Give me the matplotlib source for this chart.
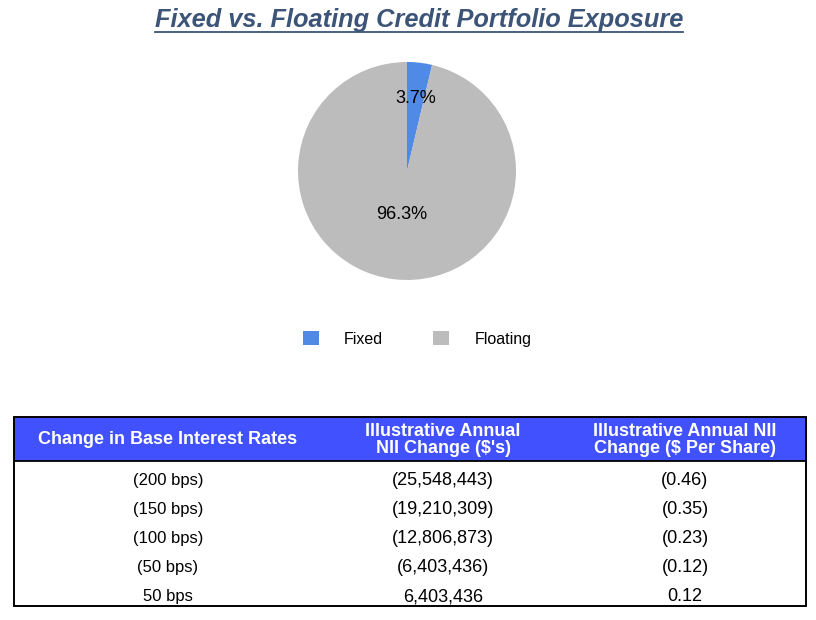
import matplotlib
matplotlib.use("Agg")
import matplotlib.pyplot as plt
from matplotlib.patches import Rectangle, Patch
from matplotlib.lines import Line2D
import numpy as np

plt.rcParams['font.family'] = ['Liberation Sans', 'DejaVu Sans']

# Data
pie_labels = ["Fixed", "Floating"]
pie_values = [3.7, 96.3]
pie_colors = ["#4f8ae6", "#bcbcbc"]

col_headers = ["Change in Base Interest Rates",
               "Illustrative Annual\nNII Change ($'s)",
               "Illustrative Annual NII\nChange ($ Per Share)"]
rate_changes = ["(200 bps)", "(150 bps)", "(100 bps)", "(50 bps)", "50 bps"]
nii_change = ["(25,548,443)", "(19,210,309)", "(12,806,873)", "(6,403,436)", "6,403,436"]
nii_per_share = ["(0.46)", "(0.35)", "(0.23)", "(0.12)", "0.12"]

W, H = 816, 620
fig = plt.figure(figsize=(W / 100, H / 100), dpi=100)

# Title (bold italic, underlined)
title = fig.text(419 / W, 1 - 20 / H, "Fixed vs. Floating Credit Portfolio Exposure",
                 ha='center', va='center', fontsize=18.3, fontweight='bold',
                 fontstyle='italic', color='#3c5478')

# Pie chart
cx, cy, r = 407, 171, 109
ax = fig.add_axes([(cx - r) / W, (H - cy - r) / H, 2 * r / W, 2 * r / H])
wedges, texts = ax.pie(pie_values, colors=pie_colors, startangle=90, counterclock=False,
                       wedgeprops=dict(linewidth=0))
ax.set_xlim(-1, 1)
ax.set_ylim(-1, 1)
ax.set_aspect('equal')
ax.axis('off')

# percentage labels, placed along each wedge's mid angle
label_dist = [0.67, 0.40]
for w, v, d in zip(wedges, pie_values, label_dist):
    ang = np.deg2rad((w.theta1 + w.theta2) / 2)
    ax.text(d * np.cos(ang), d * np.sin(ang), f"{v:.1f}%", ha='center', va='center',
            fontsize=13, color='black')

# Legend
handles = [Patch(facecolor=c, edgecolor='none') for c in pie_colors]
fig.legend(handles, pie_labels, loc='center', bbox_to_anchor=(417 / W, 1 - 339 / H),
           ncol=2, frameon=False, fontsize=11.5, handlelength=1.0, handleheight=1.0,
           handletextpad=1.6, columnspacing=3.1, borderaxespad=0)

# Table
tx0, ty0, tx1, ty1 = 14, 417, 806, 606
tw, th = tx1 - tx0, ty1 - ty0
axt = fig.add_axes([tx0 / W, (H - ty1) / H, tw / W, th / H])
axt.set_xlim(0, tw)
axt.set_ylim(th, 0)
axt.axis('off')

header_h = 44
row_h = (th - header_h) / len(rate_changes)
col_x = [154, 429, 671]

axt.add_patch(Rectangle((0, 0), tw, header_h, facecolor='#4251fe', edgecolor='none'))
for x, hdr in zip(col_x, col_headers):
    axt.text(x, header_h / 2 + 1, hdr, ha='center', va='center', fontsize=13,
             fontweight='bold', color='white', linespacing=1.0)

columns = [rate_changes, nii_change, nii_per_share]
sizes = [12, 13, 13]
for x, col, fs in zip(col_x, columns, sizes):
    for i, val in enumerate(col):
        y = header_h + row_h * (i + 0.5) + 9.5
        axt.text(x, y, val, ha='center', va='baseline', fontsize=fs, color='black')

axt.plot([0, tw], [header_h, header_h], color='black', lw=1.3, solid_capstyle='butt')
axt.add_patch(Rectangle((0, 0), tw, th, facecolor='none', edgecolor='black', lw=1.4,
                        clip_on=False))

# underline the title
fig.canvas.draw()
bb = title.get_window_extent()
uy = (bb.y0 + 0.5) / H
fig.add_artist(Line2D([bb.x0 / W, bb.x1 / W], [uy, uy], color='#3c5478', lw=1.3))

fig.savefig("out.png", dpi=100)
